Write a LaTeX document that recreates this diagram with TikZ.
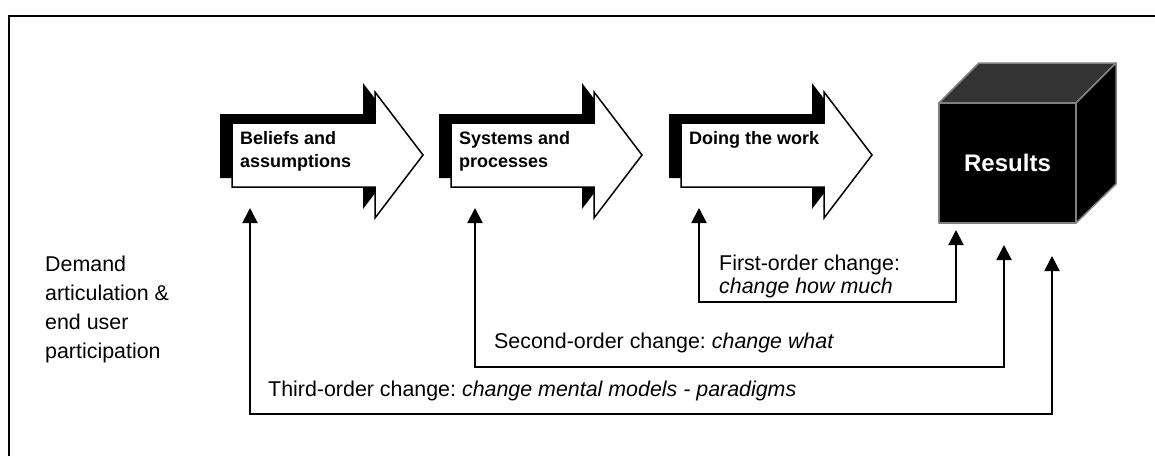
\documentclass[tikz,border=0pt]{standalone}
\usepackage{fontspec}
\setmainfont{Liberation Sans}
\usepackage{tikz}
\definecolor{gray800}{HTML}{333333}
\definecolor{gray600}{HTML}{808080}
\usetikzlibrary{arrows.meta}
\frenchspacing
\tikzstyle{stepfront}=[draw=black, fill=white, line width=1.5pt]
\tikzstyle{stepshadow}=[fill=black]
\tikzstyle{steplabel}=[anchor=base west, align=left, inner sep=0, font=\bfseries\fontsize{18}{23}\selectfont]
\tikzstyle{remark}=[anchor=base west, align=left, inner sep=0, font=\fontsize{21.4}{23}\selectfont]
\tikzstyle{cubeface}=[draw=gray600, line width=1.5pt, line join=round]
\tikzstyle{feedback}=[{Triangle[width=15pt,length=15pt]}-{Triangle[width=15pt,length=15pt]}, line width=2pt]

\begin{document}
\begin{tikzpicture}[x=1pt, y=-1pt]
				\useasboundingbox (0,0) rectangle (1155,456);
				\draw[line width=2pt] (9,456) -- (9,16) -- (1155,16);
				\foreach \x/\y/\name/\txt in {232/167/beliefs/{Beliefs and\\assumptions}, 451/167/systems/{Systems and\\processes}, 681/144/work/{Doing the work}} {
					\fill[stepshadow, xshift=-12pt, yshift=9pt] (\x,123) -- ++(143,0) -- ++(0,-31) -- ++(48,63) -- ++(-48,63) -- ++(0,-31) -- ++(-143,0) -- cycle;
					\draw[stepfront] (\x,123) -- ++(143,0) -- ++(0,-31) -- ++(48,63) -- ++(-48,63) -- ++(0,-31) -- ++(-143,0) -- cycle;
					\node[steplabel] (\name) at (\x+8,\y) {\txt};
				}
				\filldraw[cubeface, fill=gray800] (939,103) -- (979,63) -- (1116,63) -- (1076,103) -- cycle;
				\filldraw[cubeface, fill=black] (1076,103) -- (1116,63) -- (1116,184) -- (1076,223) -- cycle;
				\filldraw[cubeface, fill=black] (939,103) rectangle (1076,223);
				\node[text=white, font=\bfseries\fontsize{24}{28}\selectfont] (results) at (1007.5,163) {Results};
				\coordinate (beliefs-in) at (250,208);
				\coordinate (systems-in) at (475,208);
				\coordinate (work-in) at (699,208);
				\coordinate (results-1) at (956,230);
				\coordinate (results-2) at (1004,245);
				\coordinate (results-3) at (1052,256);
				\draw[feedback] (work-in) -- ++(0,94) -| (results-1);
				\draw[feedback] (systems-in) -- ++(0,159) -| (results-2);
				\draw[feedback] (beliefs-in) -- ++(0,206) -| (results-3);
				\node[remark, font=\fontsize{21.4}{28.7}\selectfont] (demand) at (45,358) {Demand\\articulation \&\\end user\\participation};
				\node[remark] (first) at (719,293) {First-order change:\\\textit{change how much}};
				\node[remark] (second) at (494,348) {Second-order change: \textit{change what}};
				\node[remark] (third) at (268,396.7) {Third-order change: \textit{change mental models - paradigms}};
			\end{tikzpicture}
\end{document}
